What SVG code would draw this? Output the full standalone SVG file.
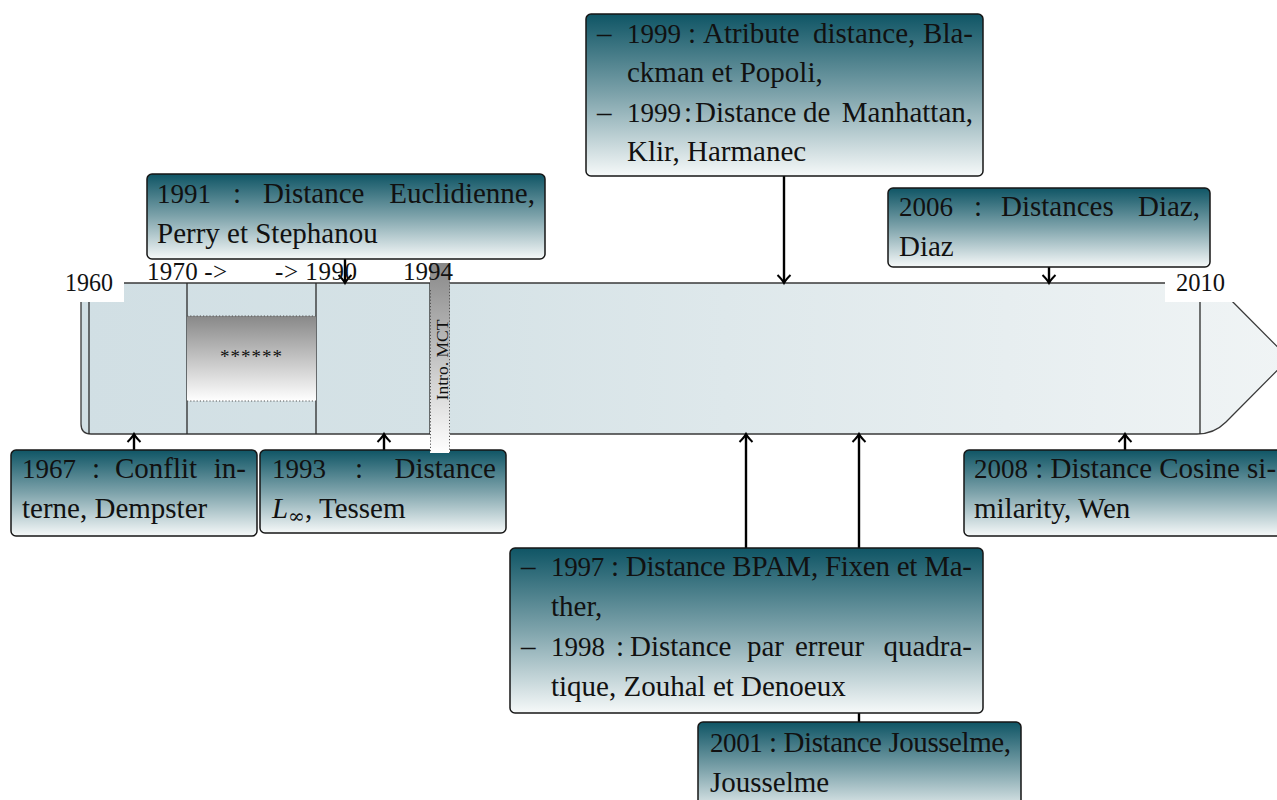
<svg xmlns="http://www.w3.org/2000/svg" width="1277" height="800" viewBox="0 0 1277 800">
<style>
.box{fill:url(#boxg);stroke:#161616;stroke-width:1.5}
.t{font-family:"Liberation Serif","Times New Roman",serif;font-size:29px;fill:#111}
.y{font-size:27px}
.lbl{font-family:"Liberation Serif","Times New Roman",serif;font-size:25px;fill:#111}
.conn{stroke:#000;stroke-width:2.4;fill:none;marker-end:url(#ah)}
.vl{stroke:#2a2a2a;stroke-width:1.3}
.dot{stroke:#555;stroke-width:1;stroke-dasharray:1.2 2}
</style>
<defs>
<linearGradient id="boxg" x1="0" y1="0" x2="0" y2="1">
<stop offset="0" stop-color="#0f5565"/>
<stop offset="0.5" stop-color="#7ea3ab"/>
<stop offset="1" stop-color="#f6f9f9"/>
</linearGradient>
<linearGradient id="tlg" gradientUnits="userSpaceOnUse" x1="81" y1="0" x2="1289" y2="0">
<stop offset="0" stop-color="#d1dfe4"/>
<stop offset="0.3" stop-color="#d5e2e6"/>
<stop offset="1" stop-color="#f0f4f5"/>
</linearGradient>
<linearGradient id="grayg" x1="0" y1="0" x2="0" y2="1">
<stop offset="0" stop-color="#888888"/>
<stop offset="1" stop-color="#ffffff"/>
</linearGradient>
<marker id="ah" markerUnits="userSpaceOnUse" orient="auto" refX="0" refY="0" markerWidth="20" markerHeight="20" viewBox="-10 -10 20 20" overflow="visible">
<path d="M-8,-6.5 Q-3,-1.5 0,0 Q-3,1.5 -8,6.5" fill="none" stroke="#000" stroke-width="2"/>
</marker>
</defs>

<g id="timeline">
<path d="M91,283 L1214,283 L1289,358.5 L1226,422 Q1214,434 1197,434 L91,434 Q81,434 81,424 L81,293 Q81,283 91,283 Z" fill="url(#tlg)" stroke="#3a3a3a" stroke-width="1.3"/>
<line class="vl" x1="89" y1="283" x2="89" y2="434"/>
<line class="vl" x1="187" y1="283" x2="187" y2="434"/>
<line class="vl" x1="316" y1="283" x2="316" y2="434"/>
<line class="vl" x1="430" y1="283" x2="430" y2="434"/>
<line class="vl" x1="1200" y1="283" x2="1200" y2="434"/>
<g id="stars">
<rect x="187" y="316" width="129" height="85" fill="url(#grayg)"/>
<line class="dot" x1="187" y1="316" x2="316" y2="316"/>
<line class="dot" x1="187" y1="401" x2="316" y2="401"/>
<text x="251" y="363" text-anchor="middle" font-family="Liberation Serif, serif" font-size="19" fill="#111" textLength="62" lengthAdjust="spacing">******</text>
</g>
</g>

<g id="connectors">
<line class="conn" x1="345" y1="259" x2="345" y2="283"/>
<line class="conn" x1="784" y1="176" x2="784" y2="283"/>
<line class="conn" x1="1049" y1="267" x2="1049" y2="283"/>
<line class="conn" x1="134" y1="450" x2="134" y2="434"/>
<line class="conn" x1="384" y1="450" x2="384" y2="434"/>
<line class="conn" x1="746" y1="548" x2="746" y2="434"/>
<line class="conn" x1="859" y1="722" x2="859" y2="434"/>
<line class="conn" x1="1125" y1="450" x2="1125" y2="434"/>
</g>

<g id="n1991">
<rect class="box" x="147" y="174" width="398" height="85" rx="5"/>
<text class="t" y="203"><tspan class="y" x="157">1991</tspan><tspan x="233">:</tspan><tspan x="263">Distance</tspan><tspan x="535" text-anchor="end">Euclidienne,</tspan></text>
<text class="t" x="157" y="243">Perry et Stephanou</text>
</g>

<g id="n1999">
<rect class="box" x="586" y="14" width="397" height="162" rx="5"/>
<text class="t" y="43"><tspan x="597">–</tspan><tspan class="y" x="627">1999</tspan><tspan x="688">:</tspan><tspan x="703">Atribute</tspan><tspan x="813">distance,</tspan><tspan x="973" text-anchor="end">Bla-</tspan></text>
<text class="t" x="627" y="82">ckman et Popoli,</text>
<text class="t" y="122"><tspan x="597">–</tspan><tspan class="y" x="627">1999</tspan><tspan x="684">:</tspan><tspan x="695">Distance</tspan><tspan x="803">de</tspan><tspan x="973" text-anchor="end">Manhattan,</tspan></text>
<text class="t" x="627" y="161">Klir, Harmanec</text>
</g>

<g id="n2006">
<rect class="box" x="888" y="188" width="322" height="79" rx="5"/>
<text class="t" y="216"><tspan class="y" x="899">2006</tspan><tspan x="974">:</tspan><tspan x="1001">Distances</tspan><tspan x="1200" text-anchor="end">Diaz,</tspan></text>
<text class="t" x="899" y="256">Diaz</text>
</g>

<g id="n1967">
<rect class="box" x="11" y="450" width="246" height="86" rx="5"/>
<text class="t" y="478"><tspan class="y" x="22">1967</tspan><tspan x="92">:</tspan><tspan x="115">Conflit</tspan><tspan x="246" text-anchor="end">in-</tspan></text>
<text class="t" x="22" y="518">terne, Dempster</text>
</g>

<g id="n1993">
<rect class="box" x="260" y="450" width="246" height="83" rx="5"/>
<text class="t" y="478"><tspan class="y" x="272">1993</tspan><tspan x="355">:</tspan><tspan x="496" text-anchor="end">Distance</tspan></text>
<text class="t" y="518"><tspan x="272" font-style="italic">L</tspan><tspan x="288" y="523" font-size="20" font-family="DejaVu Serif, serif">∞</tspan><tspan x="305" y="518">, Tessem</tspan></text>
</g>

<g id="n2008">
<rect class="box" x="964" y="450" width="330" height="86" rx="5"/>
<text class="t" x="974" y="478"><tspan class="y">2008</tspan> : Distance Cosine si-</text>
<text class="t" x="974" y="518">milarity, Wen</text>
</g>

<g id="n1997">
<rect class="box" x="510" y="548" width="473" height="165" rx="5"/>
<text class="t" x="521" y="576">–</text>
<text class="t" x="551" y="576" textLength="421" lengthAdjust="spacing"><tspan class="y">1997</tspan> : Distance BPAM, Fixen et Ma-</text>
<text class="t" x="551" y="616">ther,</text>
<text class="t" y="656"><tspan x="521">–</tspan><tspan class="y" x="551">1998</tspan><tspan x="616">:</tspan><tspan x="630">Distance</tspan><tspan x="747">par</tspan><tspan x="795">erreur</tspan><tspan x="972" text-anchor="end">quadra-</tspan></text>
<text class="t" x="551" y="696">tique, Zouhal et Denoeux</text>
</g>

<g id="n2001">
<rect class="box" x="698" y="722" width="323" height="95" rx="5"/>
<text class="t" x="710" y="752" textLength="301" lengthAdjust="spacing"><tspan class="y">2001</tspan> : Distance Jousselme,</text>
<text class="t" x="710" y="792">Jousselme</text>
</g>

<g id="intro-mct">
<rect x="430" y="263" width="20" height="190" fill="url(#grayg)"/>
<line class="dot" x1="430.5" y1="290" x2="430.5" y2="453"/>
<line class="dot" x1="449.5" y1="263" x2="449.5" y2="453"/>
<text transform="translate(448,360) rotate(-90)" text-anchor="middle" font-family="Liberation Serif, serif" font-size="17.5" fill="#111">Intro. MCT</text>
</g>

<g id="labels">
<rect x="60" y="270" width="64" height="32" fill="#fff"/>
<text class="lbl" x="65" y="291" textLength="48" lengthAdjust="spacingAndGlyphs">1960</text>
<text class="lbl" x="147" y="280" textLength="80" lengthAdjust="spacing">1970 -&gt;</text>
<text class="lbl" x="275" y="280" textLength="82" lengthAdjust="spacing">-&gt; 1990</text>
<text class="lbl" x="403" y="280" textLength="50" lengthAdjust="spacingAndGlyphs">1994</text>
<rect x="1165" y="270" width="70" height="32" fill="#fff"/>
<text class="lbl" x="1176" y="291" textLength="49" lengthAdjust="spacingAndGlyphs">2010</text>
</g>
</svg>
